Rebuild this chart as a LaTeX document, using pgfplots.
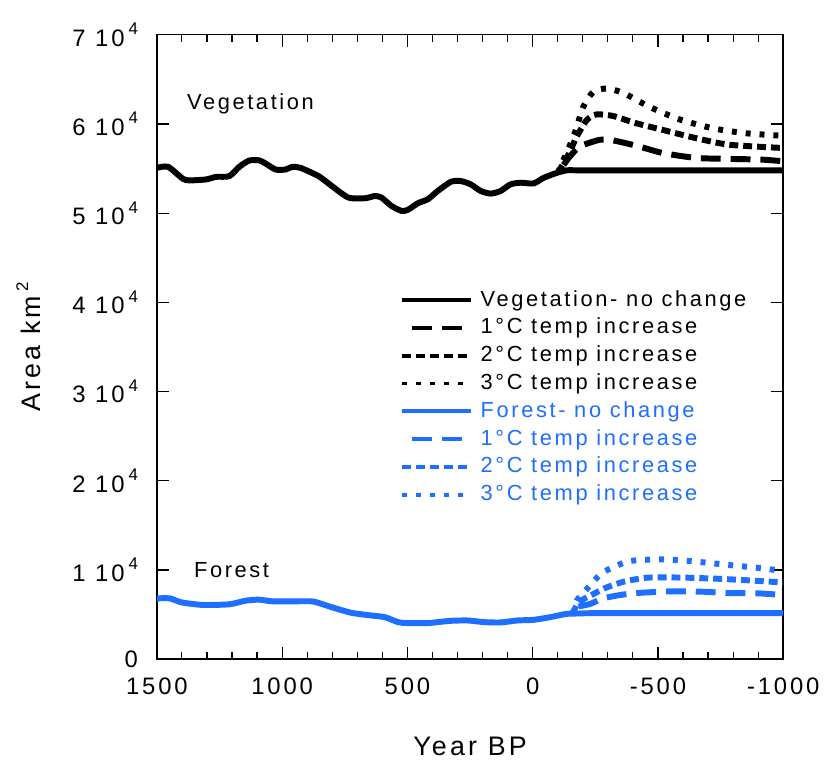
\documentclass[border=0pt]{standalone}
\usepackage{pgfplots}
\pgfplotsset{compat=1.18}
\usepackage{fontspec}
\setmainfont{Liberation Sans}[LetterSpace=12]
\definecolor{fblue}{RGB}{30,110,255}
\newcommand{\ticksize}{\fontsize{12bp}{14bp}\selectfont}
\newcommand{\labsize}{\fontsize{13.5bp}{16bp}\selectfont}
\newcommand{\legsize}{\fontsize{11bp}{13bp}\selectfont}
\newcommand{\sq}[1]{\,\raisebox{0.9ex}{\fontsize{8.5bp}{9bp}\selectfont #1}}
\begin{document}
\begin{tikzpicture}
\begin{axis}[
  scale only axis, width=315.5bp, height=314.5bp,
  xmin=-1000, xmax=1500, ymin=0, ymax=70000,
  x dir=reverse,
  axis line style={line width=0.75bp},
  xtick={-1000,-500,0,500,1000,1500},
  xticklabels={-1000,-500,0,500,1000,1500},
  minor x tick num=4,
  ytick={0,10000,20000,30000,40000,50000,60000,70000},
  yticklabels={0,1 10\sq{4},2 10\sq{4},3 10\sq{4},4 10\sq{4},5 10\sq{4},6 10\sq{4},7 10\sq{4}},
  scaled y ticks=false, scaled x ticks=false,
  tick align=inside, major tick length=6bp, minor tick length=3.5bp,
  tick style={line width=0.6bp, black},
  xticklabel style={font=\ticksize, anchor=center, yshift=-13.5bp},
  yticklabel style={font=\ticksize, anchor=east, xshift=-6bp},
  xlabel={Year BP}, ylabel={Area km\sq{2}},
  every axis x label/.style={at={(axis description cs:0.5,0)}, anchor=center, yshift=-44bp, font=\labsize},
  every axis y label/.style={at={(axis description cs:0,0.5)}, xshift=-64.5bp, anchor=center, rotate=90, font=\labsize},
  legend image code/.code={\draw[#1, line width=2bp] (0bp,0bp) -- (34.5bp,0bp);},
  legend style={draw=none, fill=none, inner sep=0pt, font=\legsize,
    at={(axis description cs:0.388,0.5915)}, anchor=north west,
    nodes={inner sep=0pt, text height=8bp, text depth=2bp},
    row sep=4bp,
    /tikz/every odd column/.append style={column sep=4bp}},
  legend cell align=left,
  every axis plot/.append style={line width=3bp, smooth, tension=0.4},
]
% Vegetation no change
\addplot[black] coordinates {
(1500,55080)(1455,55190)(1396,53850)(1369,53670)(1303,53780)(1263,54070)(1211,54140)
(1171,55190)(1132,55890)(1092,55920)(1066,55560)(1026,54890)(986,54890)(960,55190)
(927,55080)(854,54140)(801,53030)(735,51740)(669,51670)(630,51920)(603,51740)
(564,50810)(524,50260)(498,50370)(458,51110)(418,51560)(379,52480)(326,53520)
(286,53590)(247,53220)(207,52480)(168,52190)(128,52480)(89,53220)(49,53410)
(-4,53330)(-44,53960)(-97,54520)(-136,54800)(-180,54800)(-250,54800)(-1000,54800)};
\addlegendentry{Vegetation- no change}
\addplot[black, dash pattern=on 10bp off 5bp, dash phase=10bp] coordinates {
(-100,54500)(-123,55400)(-149,56370)(-189,57480)(-268,58220)(-321,58150)(-413,57560)
(-519,56740)(-651,56190)(-783,56080)(-915,56000)(-1000,55810)};
\addlegendentry{1°C temp increase}
\addplot[black, dash pattern=on 4.5bp off 2.5bp] coordinates {
(-100,54500)(-143,56560)(-176,58590)(-216,60440)(-255,61070)(-321,60890)(-413,60080)
(-519,59330)(-651,58410)(-783,57670)(-1000,57300)};
\addlegendentry{2°C temp increase}
\addplot[black, dash pattern=on 2.5bp off 4.5bp] coordinates {
(-100,54500)(-163,58590)(-202,61920)(-242,63590)(-295,63970)(-361,63480)(-466,61920)
(-585,60520)(-717,59520)(-850,58960)(-1000,58670)};
\addlegendentry{3°C temp increase}
% Forest
\addplot[fblue] coordinates {
(1500,6811)(1448,6811)(1402,6367)(1317,6074)(1211,6148)(1145,6556)(1092,6667)(1039,6481)
(960,6481)(881,6481)(854,6296)(801,5815)(722,5185)(643,4889)(590,4704)(537,4148)
(498,4037)(418,4037)(379,4148)(326,4296)(260,4333)(194,4148)(128,4111)(62,4333)
(-4,4407)(-70,4704)(-136,5074)(-200,5120)(-255,5148)(-1000,5148)};
\addlegendentry{\textcolor{fblue}{Forest- no change}}
\addplot[fblue, dash pattern=on 10bp off 5bp, dash phase=10bp] coordinates {
(-160,5050)(-176,5815)(-229,6185)(-282,6815)(-348,7185)(-414,7407)(-546,7593)
(-678,7556)(-784,7407)(-903,7370)(-1000,7185)};
\addlegendentry{\textcolor{fblue}{1°C temp increase}}
\addplot[fblue, dash pattern=on 4.5bp off 2.5bp] coordinates {
(-160,5050)(-183,6370)(-242,7296)(-295,8037)(-361,8667)(-414,8963)(-466,9148)
(-585,9148)(-717,9037)(-850,8852)(-1000,8593)};
\addlegendentry{\textcolor{fblue}{2°C temp increase}}
\addplot[fblue, dash pattern=on 2.5bp off 4.5bp] coordinates {
(-160,5050)(-176,6556)(-222,8037)(-275,9630)(-334,10444)(-387,11000)(-506,11185)
(-625,11000)(-757,10630)(-889,10259)(-968,10000)(-1000,9950)};
\addlegendentry{\textcolor{fblue}{3°C temp increase}}
\node[anchor=west, font=\legsize, inner sep=0pt] at (axis cs:1381,62210) {Vegetation};
\node[anchor=west, font=\legsize, inner sep=0pt] at (axis cs:1353,10015) {Forest};
\end{axis}
\path (current axis.south west) ++(-79bp,-51.5bp);
\path (current axis.north east) ++(18.5bp,17.5bp);
\end{tikzpicture}
\end{document}
